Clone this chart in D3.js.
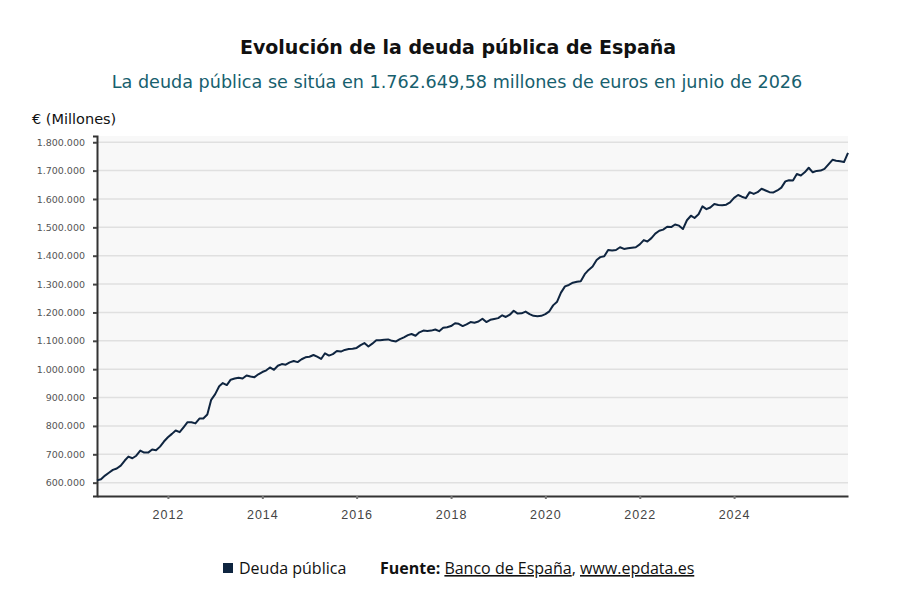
<!DOCTYPE html>
<html lang="es">
<head>
<meta charset="utf-8">
<title>Evolución de la deuda pública de España</title>
<style>
body { margin: 0; background: #fff; }
svg { display: block; font-family: "Open Sans", sans-serif; }
.y-axis text { font-family: "DejaVu Sans", sans-serif; font-size: 9.5px; fill: #555; }
.x-axis text { font-size: 12.5px; fill: #444; letter-spacing: 1px; }
.grid line { stroke: #e0e0e0; stroke-width: 1.5px; }
</style>
</head>
<body>
<div id="chart"></div>
<script src="https://d3js.org/d3.v7.min.js"></script>
<script>
// monthly debt, millions of euros, Jul 2010 .. Jun 2026
var startYear = 2010, startMonth = 6; // 0-based month, July
var deuda = [
	608, 612, 625, 635, 645, 650, 660, 678, 692, 686, 695, 713,
	706, 706, 717, 714, 727, 745, 760, 772, 784, 778, 795, 813,
	813, 809, 826, 826, 840, 892, 912, 940, 951, 944, 963, 967,
	970, 967, 978, 974, 972, 982, 990, 996, 1006, 998, 1012, 1018,
	1016, 1024, 1029, 1025, 1035, 1042, 1044, 1050, 1044, 1036, 1056, 1048,
	1053, 1064, 1062, 1068, 1071, 1072, 1075, 1085, 1092, 1080, 1090, 1102,
	1102, 1104, 1105, 1100, 1098, 1106, 1112, 1120, 1124, 1118, 1130, 1136,
	1135, 1136, 1140, 1134, 1146, 1148, 1152, 1162, 1160, 1152, 1158, 1166,
	1164, 1168, 1178, 1166, 1174, 1177, 1180, 1190, 1184, 1192, 1206, 1196,
	1197, 1203, 1194, 1188, 1187, 1188, 1194, 1204, 1225, 1238, 1270, 1292,
	1297, 1305, 1308, 1310, 1335, 1350, 1362, 1385, 1395, 1398, 1420, 1418,
	1420, 1430, 1424, 1426, 1428, 1430, 1440, 1455, 1450, 1462, 1478, 1488,
	1492, 1502, 1501, 1510, 1506, 1494, 1525, 1541, 1533, 1546, 1574, 1564,
	1570, 1582, 1579, 1578, 1580, 1588, 1604, 1614, 1608, 1603, 1624, 1618,
	1624, 1636, 1630, 1624, 1623, 1630, 1640, 1662, 1666, 1665, 1688, 1683,
	1694, 1710, 1694, 1699, 1700, 1706, 1722, 1738, 1735, 1733, 1730, 1762.64958
];
var yTicks = [600000, 700000, 800000, 900000, 1000000, 1100000, 1200000,
	1300000, 1400000, 1500000, 1600000, 1700000, 1800000];
var xTickYears = [2012, 2014, 2016, 2018, 2020, 2022, 2024];

var width = 906, height = 608;
var margin = {left: 97, right: 58, top: 136, bottom: 112};

var data = deuda.map(function(v, i) {
	return {date: new Date(startYear, startMonth + i, 1), value: v * 1000};
});

var es = d3.formatLocale({decimal: ",", thousands: ".", grouping: [3], currency: ["", " €"]});
var fmt = es.format(",d");

var svg = d3.select("#chart").append("svg")
	.attr("width", width)
	.attr("height", height);

var x = d3.scaleTime()
	.domain(d3.extent(data, function(d) { return d.date; }))
	.range([margin.left, width - margin.right]);

var y = d3.scaleLinear()
	.domain([553000, 1822000])
	.range([height - margin.bottom, margin.top]);

// titles
svg.append("text")
	.attr("x", 458).attr("y", 54)
	.attr("text-anchor", "middle")
	.style("font-family", "'DejaVu Sans', sans-serif")
	.style("font-size", "19px").style("font-weight", "bold").style("fill", "#111")
	.text("Evolución de la deuda pública de España");

svg.append("text")
	.attr("x", 457).attr("y", 88)
	.attr("text-anchor", "middle")
	.style("font-family", "'DejaVu Sans', sans-serif")
	.style("font-size", "17.6px").style("fill", "#17606e")
	.text("La deuda pública se sitúa en 1.762.649,58 millones de euros en junio de 2026");

svg.append("text")
	.attr("x", 32).attr("y", 124)
	.style("font-family", "'DejaVu Sans', sans-serif")
	.style("font-size", "14.5px").style("fill", "#111")
	.text("€ (Millones)");

// plot background
svg.append("rect")
	.attr("x", margin.left).attr("y", margin.top)
	.attr("width", width - margin.right - margin.left)
	.attr("height", height - margin.bottom - margin.top)
	.attr("fill", "#f8f8f8");

// grid
svg.append("g").attr("class", "grid")
	.selectAll("line").data(yTicks).enter().append("line")
	.attr("x1", margin.left).attr("x2", width - margin.right)
	.attr("y1", function(d) { return y(d); })
	.attr("y2", function(d) { return y(d); });

// y axis
var yAxis = svg.append("g").attr("class", "y-axis")
	.attr("transform", "translate(" + margin.left + ",0)")
	.call(d3.axisLeft(y).tickValues(yTicks).tickFormat(fmt).tickSize(4).tickPadding(8));
yAxis.select(".domain").attr("stroke", "#333").attr("stroke-width", 2);
yAxis.selectAll(".tick line").attr("stroke", "#444").attr("stroke-width", 2);

// x axis
var xAxis = svg.append("g").attr("class", "x-axis")
	.attr("transform", "translate(0," + (height - margin.bottom) + ")")
	.call(d3.axisBottom(x)
		.tickValues(xTickYears.map(function(yr) { return new Date(yr, 0, 1); }))
		.tickFormat(d3.timeFormat("%Y"))
		.tickSize(3).tickSizeOuter(0).tickPadding(11));
xAxis.select(".domain").attr("stroke", "#333").attr("stroke-width", 2);
xAxis.selectAll(".tick line").attr("stroke", "#777").attr("stroke-width", 2);

// line
var line = d3.line()
	.x(function(d) { return x(d.date); })
	.y(function(d) { return y(d.value); });

svg.append("path")
	.datum(data)
	.attr("fill", "none")
	.attr("stroke", "#0f2540")
	.attr("stroke-width", 2)
	.attr("stroke-linejoin", "round")
	.attr("d", line);

// legend + source
svg.append("rect")
	.attr("x", 223).attr("y", 563)
	.attr("width", 10).attr("height", 10)
	.attr("fill", "#0f2540");

svg.append("text")
	.attr("x", 239).attr("y", 574)
	.style("font-size", "16px").style("fill", "#111")
	.text("Deuda pública");

var src = svg.append("text")
	.attr("x", 380).attr("y", 574)
	.style("font-size", "16px").style("fill", "#111");
src.append("tspan").style("font-weight", "bold").text("Fuente:");
src.append("tspan").text(" ");
src.append("tspan").style("text-decoration", "underline").text("Banco de España");
src.append("tspan").text(", ");
src.append("tspan").style("text-decoration", "underline").text("www.epdata.es");
</script>
</body>
</html>
